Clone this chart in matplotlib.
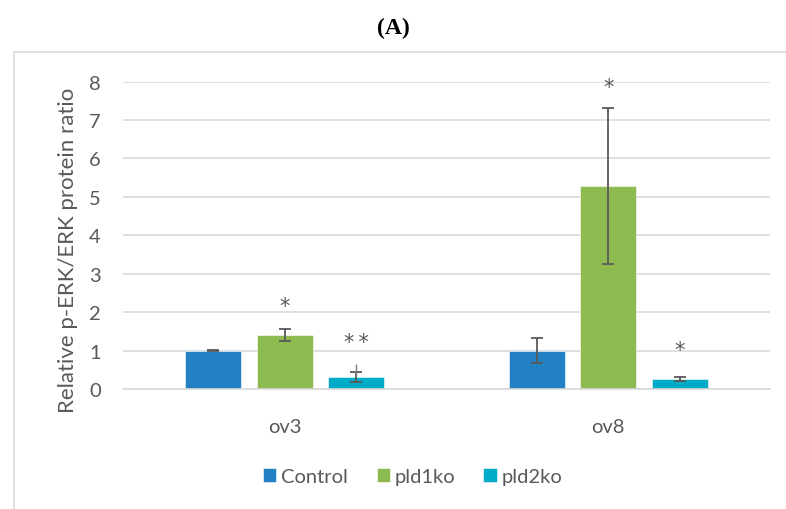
import numpy as np
import matplotlib
matplotlib.use("Agg")
from matplotlib import pyplot as plt
from matplotlib.patches import Rectangle

plt.rcParams['font.family'] = ['Lato', 'DejaVu Sans']

# data
groups = ['ov3', 'ov8']
series = ['Control', 'pld1ko', 'pld2ko']
control = [1.0, 1.0]
control_err = [0.02, 0.33]
pld1ko = [1.4, 5.28]
pld1ko_err = [0.16, 2.02]
pld2ko = [0.32, 0.26]
pld2ko_err = [0.13, 0.06]
pld2ko_extra = [0.33, 0.0]   # uncapped line over the ov3 pld2ko bar
stars = ['*', '*\u2009*', '*', '*']
star_group = [0, 0, 1, 1]
star_series = [1, 2, 1, 2]
star_y = [2.15, 1.22, 7.85, 1.02]

colors = ['#2181c2', '#8dbb4f', '#00abc7']
grey = '#595959'

fig = plt.figure(figsize=(7.86, 5.1), dpi=100)
ax = fig.add_axes([0.1565, 0.2353, 0.8231, 0.6029])

x = np.arange(len(groups))
width = 0.173
step = 0.221
offsets = [-step, 0, step]
vals = [control, pld1ko, pld2ko]
errs = [control_err, pld1ko_err, pld2ko_err]

for i, name in enumerate(series):
    ax.bar(x + offsets[i], vals[i], width, color=colors[i], label=name,
           edgecolor='white', linewidth=0.4, zorder=2)
    ax.errorbar(x + offsets[i], vals[i], yerr=errs[i], fmt='none',
                ecolor=grey, elinewidth=1.3, capsize=4.3, capthick=1.3, zorder=3)

ax.errorbar(x + offsets[2], pld2ko, yerr=[[0, 0], pld2ko_extra], fmt='none',
            ecolor='#7f7f7f', elinewidth=1.0, capsize=0, zorder=3)

for s, g, k, yy in zip(stars, star_group, star_series, star_y):
    ax.text(x[g] + offsets[k], yy, s, ha='center', va='center',
            fontsize=15, color=grey, family='DejaVu Sans')

ax.set_xlim(-0.5, 1.5)
ax.set_ylim(0, 8)
ax.set_yticks(range(0, 9))
ax.yaxis.grid(True, color='#d9d9d9', linewidth=1.2, zorder=0)
ax.set_axisbelow(True)
for sp in ['top', 'right', 'left']:
    ax.spines[sp].set_visible(False)
ax.spines['bottom'].set_color('#d9d9d9')
ax.spines['bottom'].set_linewidth(1.2)
ax.tick_params(axis='y', length=0, pad=16, labelsize=14.5, labelcolor=grey)
ax.tick_params(axis='x', length=0, pad=21, labelsize=14.5, labelcolor=grey)
ax.set_xticks(x)
ax.set_xticklabels(groups)
ax.set_ylabel('Relative p-ERK/ERK protein ratio', fontsize=16, color=grey)
ax.yaxis.set_label_coords(-0.069, 0.455)

leg = ax.legend(loc='center', bbox_to_anchor=(0.448, -0.285), ncol=3, frameon=False,
                fontsize=14.5, handlelength=0.65, handleheight=0.65, handletextpad=0.25,
                columnspacing=1.4)
for t in leg.get_texts():
    t.set_color(grey)

fig.text(0.5, 0.945, '(A)', ha='center', va='center', fontsize=17,
         fontweight='bold', family='Liberation Serif')

fig.patches.append(Rectangle((14 / 786, -0.1), 1.0, 1 - 53 / 510 + 0.1,
                             transform=fig.transFigure, fill=False,
                             edgecolor='#d9d9d9', linewidth=1.2))

fig.savefig('out.png', dpi=100)
